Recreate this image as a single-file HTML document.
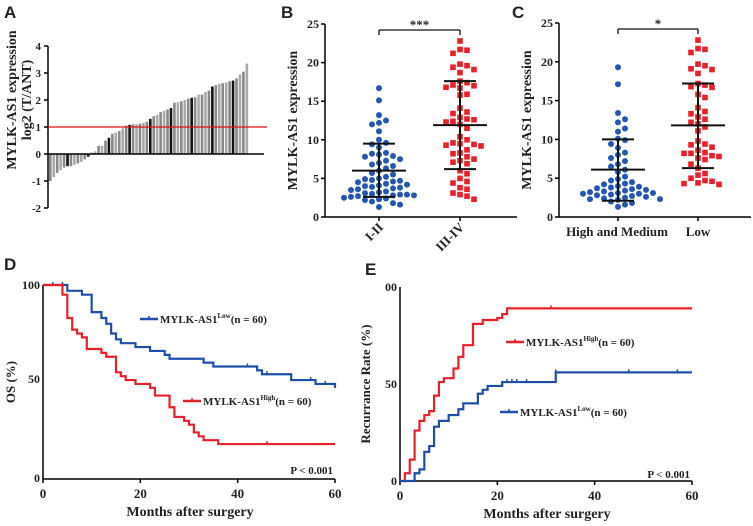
<!DOCTYPE html>
<html><head><meta charset="utf-8"><style>
body{margin:0;background:#fff;width:753px;height:521px;overflow:hidden}
svg text{font-family:"Liberation Serif",serif;font-weight:bold;fill:#222}
.let{font-family:"Liberation Sans",sans-serif;font-size:17px;font-weight:bold}
</style></head><body>
<svg id="s" width="753" height="521">
<text class="let" x="4" y="18">A</text>
<text class="let" x="281" y="18">B</text>
<text class="let" x="512" y="18">C</text>
<text class="let" x="4" y="270">D</text>
<text class="let" x="365" y="275">E</text>
</svg>
<script>
const barVals=[-1.0,-0.85,-0.7,-0.6,-0.5,-0.45,-0.45,-0.4,-0.35,-0.3,-0.2,-0.1,0.05,0.1,0.3,0.3,0.5,0.6,0.75,0.8,0.85,0.95,1.05,1.08,1.1,1.1,1.12,1.15,1.2,1.3,1.4,1.45,1.55,1.6,1.65,1.7,1.9,1.92,1.95,2.0,2.05,2.08,2.1,2.2,2.2,2.3,2.35,2.5,2.55,2.6,2.62,2.65,2.7,2.72,2.8,2.95,3.05,3.35];
const aTicks=[-2,-1,0,1,2,3,4];
const bLow=[16.7,15.1,13.2,12.5,12.2,12.0,11.1,10.0,9.6,9.4,9.0,8.3,8.2,8.1,7.9,7.8,7.5,7.3,7.0,6.8,6.6,6.3,6.0,5.7,5.5,5.2,5.0,4.9,4.8,4.7,4.6,4.5,4.3,4.2,4.1,4.0,3.9,3.8,3.7,3.6,3.5,3.3,3.2,3.1,3.0,2.9,2.9,2.8,2.8,2.7,2.6,2.5,2.4,2.3,2.2,2.0,1.8,1.6,1.3];
const bHigh=[22.8,21.7,21.6,21.2,19.8,19.6,19.4,19.1,18.7,17.6,17.4,17.1,17.0,16.8,16.7,15.9,15.8,14.1,13.6,13.4,12.9,12.7,12.6,12.4,12.3,12.0,11.5,10.4,10.0,9.6,9.5,9.4,9.3,9.2,8.7,8.3,8.2,7.8,7.5,7.3,7.1,6.9,6.0,5.6,5.0,4.6,4.4,3.8,3.6,3.1,2.9,2.7,2.3];
const bStats=[[6.0,2.6,9.5],[11.9,6.2,17.6]];
const cHM=[19.3,17.1,13.4,12.6,12.2,11.4,11.0,10.1,9.9,9.4,8.9,8.3,8.0,7.6,7.2,6.8,6.5,6.1,5.8,5.2,4.9,4.7,4.5,4.3,4.2,4.0,3.9,3.8,3.7,3.6,3.5,3.4,3.3,3.2,3.1,3.1,3.0,3.0,2.9,2.8,2.7,2.6,2.5,2.4,2.3,2.3,2.2,2.0,1.8,1.6,1.3];
const cLow=[22.8,21.7,21.6,21.2,19.7,19.5,19.1,19.0,18.5,17.2,17.0,16.8,16.7,15.8,15.4,14.1,13.6,13.3,12.9,12.6,12.2,12.0,11.6,11.1,9.8,9.4,9.3,9.0,8.6,8.3,8.2,8.2,7.9,7.8,7.6,7.4,6.8,6.3,5.6,5.4,5.0,4.7,4.6,4.4,4.3,4.2];
const cStats=[[6.1,2.1,10.0],[11.8,6.3,17.2]];
const scTicks=[0,5,10,15,20,25];
const dLowT=[0,5,8,10,12,13,14,15,16,19,22,25,26,33,35,44,45,51,56,60];
const dLowS=[100,97,95,86,83,80,75,72,70,68,66,64,62,60,58,56,54,51,49,47];
const dLowC=[2,4,42,46,55,58];
const dHighT=[0,4,5,6,7,8,9,12,13,15,16,17,19,22,23,26,27,29,30,31,32,33,36,60];
const dHighS=[100,95,83,77,75,73,67,65,63,55,53,51,49,47,43,37,32,30,28,24,22,20,18,18];
const dHighC=[46];
const eHighT=[0,1,2,3,4,5,6,7,8,9,11,12,13,15,17,20,21,22,60];
const eHighS=[0,4,11,26,31,34,36,44,51,53,58,64,70,81,83,84,86,89,89];
const eHighC=[31];
const eLowT=[0,3,4,5,6,7,8,10,12,13,16,17,18,21,32,60];
const eLowS=[0,4,6,15,18,28,31,34,37,40,45,47,49,51,56,56];
const eLowC=[22,23,24,26,32,47,57];
const kmTicksX=[0,20,40,60];

const S=document.getElementById('s');const NS='http://www.w3.org/2000/svg';
function el(t,a,txt){const e=document.createElementNS(NS,t);for(const k in a)e.setAttribute(k,a[k]);if(txt!==undefined)e.textContent=txt;S.appendChild(e);return e;}
function line(x1,y1,x2,y2,c,w,name){const e=el('line',{x1,y1,x2,y2,stroke:c,'stroke-width':w});

return e;}
function text(x,y,s,sz,anchor,name,extra){const e=el('text',Object.assign({x,y,'font-size':sz,'text-anchor':anchor},extra||{}),s);

return e;}

// Panel A
const ay=v=>154-v*27;
line(48,ay(4),48,ay(-2),'#000',1.5,'a-y-axis');
aTicks.forEach(t=>{line(44,ay(t),48,ay(t),'#000',1.5,'a-y-tick');text(41,ay(t)+4,String(t),11,'end','a-y-tick-label',{'font-family':'Liberation Sans, sans-serif'});});
const bw=200/barVals.length;
barVals.forEach((v,i)=>{const x=49+i*bw;const y0=ay(0),y1=ay(v);
const r=el('rect',{x:x,y:Math.min(y0,y1),width:bw*0.75,height:Math.abs(y1-y0),fill:(i%6==5)?'#111':(i%2?'#aaa':'#888')});

});
line(48,ay(0),264,ay(0),'#000',1.5,'a-zero-line');
line(48,ay(1),267,ay(1),'#e01010',1.2,'a-threshold-line');
text(16,100,'MYLK-AS1 expression',14,'middle','a-y-title',{transform:'rotate(-90 16 100)'});
text(31,100,'log2 (T/ANT)',14,'middle','a-y-title-2',{transform:'rotate(-90 31 100)'});

// scatter panels
function swarm(vals,cx,yf,color,shape,name){const placed=[];
vals.forEach(v=>{const y=yf(v);let dx=0;
for(let k=0;k<40;k++){const c=k==0?0:(k%2?1:-1)*Math.ceil(k/2)*7;if(placed.every(p=>Math.abs(p[0]-(cx+c))>6.5||Math.abs(p[1]-y)>6.5)){dx=c;break;}}
placed.push([cx+dx,y]);
const e=shape=='sq'?el('rect',{x:cx+dx-2.8,y:y-2.8,width:5.6,height:5.6,fill:color}):el('circle',{cx:cx+dx,cy:y,r:3,fill:color});

});}
function errbar(cx,st,yf,name){line(cx-27,yf(st[0]),cx+27,yf(st[0]),'#111',2,name+'-mean');
line(cx-16,yf(st[1]),cx+16,yf(st[1]),'#111',2,name+'-sd-low');line(cx-16,yf(st[2]),cx+16,yf(st[2]),'#111',2,name+'-sd-high');
line(cx,yf(st[1]),cx,yf(st[2]),'#111',2,name+'-sd-line');}
function scatterPanel(x0,x1,yTop,yBot,c1,c2,g1,g2,s1,s2,stars,p){
const yf=v=>yBot-(v/25)*(yBot-yTop);
line(x0,yTop,x0,yBot,'#000',1.5,p+'-y-axis');line(x0,yBot,x1,yBot,'#000',1.5,p+'-x-axis');
scTicks.forEach(t=>{line(x0-4,yf(t),x0,yf(t),'#000',1.5,p+'-y-tick');text(x0-6,yf(t)+4,String(t),12,'end',p+'-y-tick-label');});
[c1,c2].forEach(c=>line(c,yBot,c,yBot+4,'#000',1.5,p+'-x-tick'));
swarm(g1,c1,yf,'#2557b0','c',p+'-point-group1');swarm(g2,c2,yf,'#e8202a','sq',p+'-point-group2');
errbar(c1,s1,yf,p+'-group1');errbar(c2,s2,yf,p+'-group2');
const by=yTop+6;line(c1,by,c2,by,'#111',1.3,p+'-sig-bracket');line(c1,by,c1,by+5,'#111',1.3,p+'-sig-bracket-l');line(c2,by,c2,by+5,'#111',1.3,p+'-sig-bracket-r');
text((c1+c2)/2,by-1,stars,13,'middle',p+'-significance',{'font-family':'Liberation Sans, sans-serif'});
text(x0-28,(yTop+yBot)/2,'MYLK-AS1 expression',14,'middle',p+'-y-title',{transform:`rotate(-90 ${x0-28} ${(yTop+yBot)/2})`});}
scatterPanel(325,517,24,217,379,460,bLow,bHigh,bStats[0],bStats[1],'***','b');
text(384,228,'I-II',13,'end','b-x-label-1',{transform:'rotate(-45 384 228)'});
text(465,228,'III-IV',13,'end','b-x-label-2',{transform:'rotate(-45 465 228)'});
scatterPanel(559,751,23,217,618,698,cHM,cLow,cStats[0],cStats[1],'*','c');
text(617,236,'High and Medium',13,'middle','c-x-label-1');
text(698,236,'Low',13,'middle','c-x-label-2');

// KM panels
function km(x0,x1,yTop,yBot,p){const xf=t=>x0+t/60*(x1-x0);const yf=v=>yBot-v/100*(yBot-yTop);
line(x0,yTop,x0,yBot,'#000',1.5,p+'-y-axis');line(x0,yBot,x1,yBot,'#000',1.5,p+'-x-axis');
kmTicksX.forEach(t=>{line(xf(t),yBot,xf(t),yBot+4,'#000',1.5,p+'-x-tick');text(xf(t),yBot+19,String(t),13,'middle',p+'-x-tick-label');});
return {xf,yf};}
function curve(ax,T,Sv,C,color,name){let d=`M${ax.xf(T[0])},${ax.yf(Sv[0])}`;
for(let i=1;i<T.length;i++){d+=`H${ax.xf(T[i])}V${ax.yf(Sv[i])}`;}
const e=el('path',{d,fill:'none',stroke:color,'stroke-width':2.2});


C.forEach(t=>{let v=Sv[0];for(let i=0;i<T.length;i++)if(T[i]<=t)v=Sv[i];line(ax.xf(t),ax.yf(v)-3,ax.xf(t),ax.yf(v)+1,color,1.5,name+'-censor');});}
function legend(x,y,color,sup,name){line(x,y,x+18,y,color,2.5,name+'-swatch');line(x+9,y-3,x+9,y,color,1.5,name+'-swatch-tick');
const t=text(x+20,y+4,'MYLK-AS1',11,'start',name);const ts=document.createElementNS(NS,'tspan');ts.setAttribute('font-size','7');ts.setAttribute('dy','-5');ts.textContent=sup;t.appendChild(ts);
const t2=document.createElementNS(NS,'tspan');t2.setAttribute('dy','5');t2.textContent='(n = 60)';t.appendChild(t2);}
const D=km(43,335,285,479,'d');
text(40,289,'100',12,'end','d-y-tick-label');text(40,383,'50',12,'end','d-y-tick-label');text(40,482,'0',12,'end','d-y-tick-label');
curve(D,dLowT,dLowS,dLowC,'#1f4fa8','d-curve-low');curve(D,dHighT,dHighS,dHighC,'#e8202a','d-curve-high');
legend(140,319,'#1f4fa8','Low','d-legend-low');legend(183,401,'#e8202a','High','d-legend-high');
text(333,474,'P < 0.001',11,'end','d-p-value');
text(15,382,'OS (%)',13,'middle','d-y-title',{transform:'rotate(-90 15 382)'});
text(190,516,'Months after surgery',14,'middle','d-x-title');
const E=km(400,692,287,481,'e');
text(397,291,'00',12,'end','e-y-tick-label');text(397,388,'50',12,'end','e-y-tick-label');text(397,485,'0',12,'end','e-y-tick-label');
curve(E,eHighT,eHighS,eHighC,'#e8202a','e-curve-high');curve(E,eLowT,eLowS,eLowC,'#1f4fa8','e-curve-low');
legend(506,342,'#e8202a','High','e-legend-high');legend(500,412,'#1f4fa8','Low','e-legend-low');
text(690,478,'P < 0.001',11,'end','e-p-value');
text(370,384,'Recurrance Rate (%)',13,'middle','e-y-title',{transform:'rotate(-90 370 384)'});
text(547,518,'Months after surgery',14,'middle','e-x-title');
</script></body></html>
